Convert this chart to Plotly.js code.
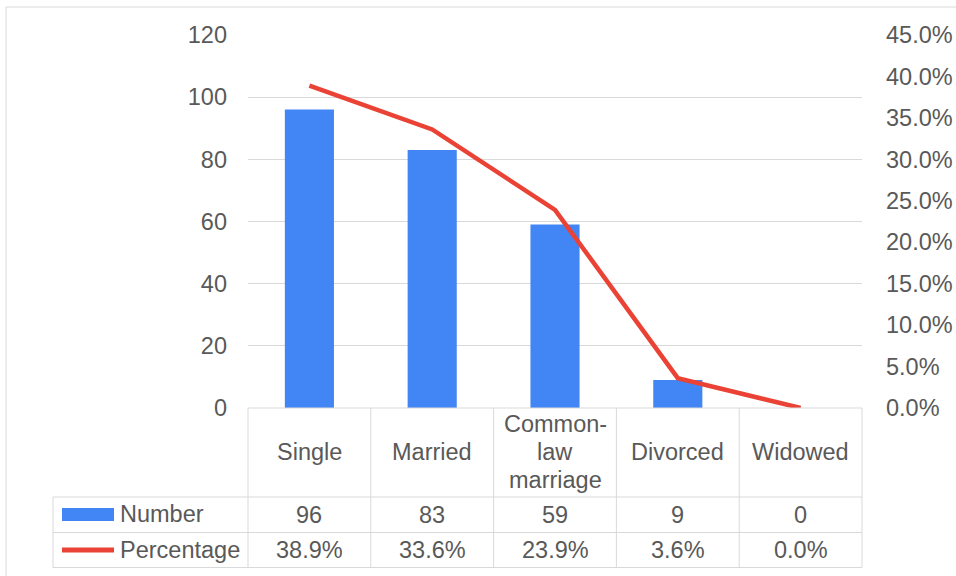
<!DOCTYPE html>
<html>
<head>
<meta charset="utf-8">
<script src="https://cdn.plot.ly/plotly-3.0.1.min.js"></script>
<style>html,body{margin:0;padding:0;background:#fff;}#chart{width:956px;height:576px;}</style>
</head>
<body>
<div id="chart"></div>
<script>
// ---- data ----
const categories = ['Single', 'Married', 'Common-<br>law<br>marriage', 'Divorced', 'Widowed'];
const counts = [96, 83, 59, 9, 0];
const percentages = [0.389, 0.336, 0.239, 0.036, 0.0];
const seriesNames = ['Number', 'Percentage'];
const leftTicks = [0, 20, 40, 60, 80, 100, 120];

// ---- layout helpers (pixel geometry of the plot area) ----
const W = 956, H = 576;
const L = 248, R = 862, T = 35, B = 408;
const pw = R - L, ph = B - T;
const px = x => (x - L) / pw;       // pixel x -> paper x
const py = y => (B - y) / ph;       // pixel y -> paper y

const BLUE = '#4285f4', RED = '#ea4335', GRID = '#d9d9d9', TXT = '#595959';
const FS = 23.5;
const FONT = 'Liberation Sans, Arial, sans-serif';

const xIdx = categories.map((c, i) => i);

const traces = [
  {
    type: 'bar', x: xIdx, y: counts, name: seriesNames[0],
    marker: { color: BLUE }, width: 0.4, hoverinfo: 'none'
  },
  {
    type: 'scatter', mode: 'lines', x: xIdx, y: percentages, name: seriesNames[1],
    yaxis: 'y2', line: { color: RED, width: 4.5 }, cliponaxis: false, hoverinfo: 'none'
  }
];

const shapes = [];
const annotations = [];
const line = (x0, y0, x1, y1, color, width) => shapes.push({
  type: 'line', xref: 'paper', yref: 'paper', x0: x0, y0: y0, x1: x1, y1: y1,
  line: { color: color || GRID, width: width || 1 }
});

// outer frame
shapes.push({ type: 'rect', xref: 'paper', yref: 'paper', x0: px(6), y0: py(7), x1: px(1100), y1: py(700),
  line: { color: GRID, width: 1 }, fillcolor: 'rgba(0,0,0,0)' });

// data table grid
const rowTop1 = 497, rowTop2 = 532.5, rowBot = 567.5, legL = 53;
line(0, 0, 1, 0);
line(px(legL), py(rowTop1), 1, py(rowTop1));
line(px(legL), py(rowTop2), 1, py(rowTop2));
line(px(legL), py(rowBot), 1, py(rowBot));
for (let k = 0; k <= categories.length; k++) {
  line(k / categories.length, 0, k / categories.length, py(rowBot));
}
line(px(legL), py(rowTop1), px(legL), py(rowBot));

// legend keys in table
shapes.push({ type: 'rect', xref: 'paper', yref: 'paper', x0: px(62), x1: px(114), y0: py(508), y1: py(521),
  line: { width: 0 }, fillcolor: BLUE });
shapes.push({ type: 'line', xref: 'paper', yref: 'paper', x0: px(62), x1: px(114), y0: py(550), y1: py(550),
  line: { color: RED, width: 5 } });

const ann = (o) => annotations.push(Object.assign({
  showarrow: false, font: { family: FONT, size: FS, color: TXT }, yanchor: 'middle'
}, o));

// header (category names), tight line spacing
const lineGap = 27.5;
categories.forEach((c, i) => {
  const parts = c.split('<br>');
  parts.forEach((p, j) => {
    const yc = 452 + (j - (parts.length - 1) / 2) * lineGap;
    ann({ xref: 'x', x: i, yref: 'paper', y: py(yc), text: p, xanchor: 'center' });
  });
});
// rows
counts.forEach((v, i) => ann({ xref: 'x', x: i, yref: 'paper', y: py(515), text: String(v), xanchor: 'center' }));
percentages.forEach((v, i) => ann({ xref: 'x', x: i, yref: 'paper', y: py(550), text: (v * 100).toFixed(1) + '%', xanchor: 'center' }));
ann({ xref: 'paper', x: px(118), yref: 'paper', y: py(514), text: seriesNames[0], xanchor: 'left' });
ann({ xref: 'paper', x: px(118), yref: 'paper', y: py(550), text: seriesNames[1], xanchor: 'left' });

const layout = {
  width: W, height: H,
  margin: { l: L, r: W - R, t: T, b: H - B, pad: 0 },
  paper_bgcolor: '#fff', plot_bgcolor: '#fff',
  font: { family: FONT, size: FS, color: TXT },
  showlegend: false,
  bargap: 0.6,
  xaxis: { type: 'linear', range: [-0.5, categories.length - 0.5], showticklabels: false,
    showgrid: false, zeroline: false, showline: false, ticks: '', fixedrange: true },
  yaxis: { range: [0, 120], tickvals: leftTicks, gridcolor: GRID, gridwidth: 1, zeroline: false,
    showline: false, ticks: '', ticklabelstandoff: 20, tickfont: { family: FONT, size: FS, color: TXT } },
  yaxis2: { overlaying: 'y', side: 'right', range: [0, 0.45], dtick: 0.05, tick0: 0, tickformat: '.1%',
    showgrid: false, zeroline: false, showline: false, ticks: '', ticklabelstandoff: 23,
    tickfont: { family: FONT, size: FS, color: TXT } },
  shapes: shapes,
  annotations: annotations
};

Plotly.newPlot('chart', traces, layout, { staticPlot: true, displayModeBar: false });
</script>
</body>
</html>
